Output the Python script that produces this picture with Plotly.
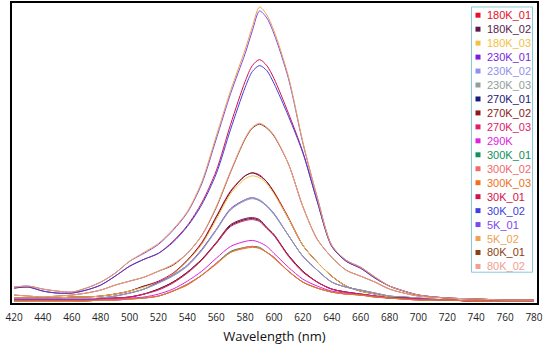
import plotly.graph_objects as go

# ---------------- data ----------------
wavelength = [420, 430, 440, 450, 460, 470, 480, 490, 500, 510, 520, 530, 540, 550, 560, 570,
              580, 585, 590, 595, 600, 610, 620, 630, 640, 650, 660, 670, 680, 690, 700,
              720, 740, 760, 780]

series_names = ["180K_01", "180K_02", "180K_03", "230K_01", "230K_02", "230K_03",
                "270K_01", "270K_02", "270K_03", "290K", "300K_01", "300K_02", "300K_03",
                "30K_01", "30K_02", "5K_01", "5K_02", "80K_01", "80K_02"]

series_colors = ["#e8102a", "#5c1a4a", "#f5c042", "#7a1fe0", "#8f8ff0", "#8fa09a",
                 "#1a1a7a", "#8b1a1a", "#e0206a", "#e020e0", "#10905a", "#f06a6a", "#f07020",
                 "#d8104a", "#4040e0", "#7a4af0", "#f0a050", "#8b4010", "#f0a090"]

k180_01 = [5, 5, 5, 5, 6, 6, 7, 9, 12, 17, 22, 30, 43, 61, 87, 113, 128, 131, 129, 122, 112, 86, 58, 41, 27, 17, 12, 9, 6, 5, 4, 3, 2, 2, 2]
k180_02 = [5, 5, 5, 5, 6, 6, 7, 9, 12, 17, 21, 29, 43, 60, 86, 112, 128, 131, 128, 122, 111, 85, 58, 41, 27, 17, 12, 9, 6, 5, 4, 3, 2, 2, 2]
k180_03 = [5, 5, 5, 5, 6, 6, 7, 9, 12, 16, 21, 29, 42, 59, 84, 110, 125, 128, 126, 120, 110, 85, 58, 41, 27, 17, 12, 9, 6, 5, 4, 3, 2, 2, 2]
k230_01 = [4, 4, 4, 4, 4, 4, 5, 7, 10, 14, 21, 28, 38, 54, 74, 95, 104, 106, 103, 98, 90, 68, 47, 33, 21, 16, 13, 10, 7, 6, 5, 3, 2, 2, 2]
k230_02 = [4, 4, 4, 4, 4, 4, 5, 7, 10, 14, 20, 28, 38, 53, 74, 94, 104, 106, 104, 98, 90, 68, 47, 33, 21, 16, 13, 10, 7, 6, 5, 3, 2, 2, 2]
k230_03 = [4, 4, 4, 4, 4, 4, 5, 7, 10, 14, 20, 27, 37, 53, 73, 94, 103, 105, 103, 97, 89, 68, 47, 33, 21, 16, 13, 10, 7, 6, 5, 3, 2, 2, 2]
k270_01 = [3, 3, 3, 3, 3, 3, 4, 5, 6, 9, 14, 21, 31, 44, 60, 78, 84, 85, 83, 76, 68, 48, 32, 21, 14, 11, 9, 7, 5, 5, 4, 3, 2, 2, 2]
k270_02 = [3, 3, 3, 3, 3, 3, 4, 5, 6, 9, 14, 21, 31, 44, 61, 79, 85, 86, 84, 76, 69, 48, 32, 21, 14, 11, 9, 7, 5, 5, 4, 3, 2, 2, 2]
k270_03 = [3, 3, 3, 3, 3, 3, 4, 5, 6, 9, 13, 20, 30, 43, 60, 77, 83, 84, 82, 75, 68, 47, 31, 21, 14, 11, 9, 7, 5, 5, 4, 3, 2, 2, 2]
k290 = [3, 3, 3, 3, 3, 3, 4, 4, 5, 6, 9, 14, 22, 32, 45, 57, 62, 63, 61, 57, 50, 36, 24, 17, 12, 10, 8, 7, 5, 4, 4, 3, 2, 2, 2]
k300_01 = [2, 2, 2, 2, 2, 2, 3, 3, 4, 5, 7, 12, 19, 28, 40, 52, 56, 57, 56, 51, 46, 32, 21, 15, 11, 9, 8, 6, 5, 4, 3, 3, 2, 2, 2]
k300_02 = [2, 2, 2, 2, 2, 2, 3, 3, 4, 5, 7, 12, 19, 28, 40, 51, 56, 57, 55, 51, 46, 32, 21, 15, 11, 9, 8, 6, 5, 4, 3, 3, 2, 2, 2]
k300_03 = [2, 2, 2, 2, 2, 2, 3, 3, 4, 5, 7, 12, 18, 28, 39, 51, 55, 56, 55, 51, 45, 32, 21, 15, 11, 9, 8, 6, 5, 4, 3, 3, 2, 2, 2]
k30_01 = [15, 16, 12, 10, 10, 13, 18, 27, 37, 44, 50, 62, 78, 101, 133, 180, 223, 239, 245, 239, 226, 191, 152, 102, 57, 42, 35, 25, 17, 12, 8, 5, 4, 3, 3]
k30_02 = [15, 16, 12, 10, 10, 13, 18, 27, 37, 44, 50, 61, 77, 99, 130, 175, 217, 233, 239, 234, 221, 188, 151, 102, 57, 42, 35, 25, 17, 12, 8, 5, 4, 3, 3]
k5_01 = [16, 17, 14, 12, 11, 15, 21, 30, 42, 50, 59, 73, 91, 120, 165, 211, 251, 274, 294, 287, 271, 226, 161, 106, 58, 43, 36, 26, 17, 12, 8, 5, 4, 3, 3]
k5_02 = [16, 17, 14, 12, 11, 15, 21, 30, 42, 51, 60, 74, 92, 122, 168, 214, 255, 278, 298, 290, 274, 228, 162, 106, 58, 43, 36, 26, 17, 12, 8, 5, 4, 3, 3]
k80_01 = [8, 7, 6, 7, 8, 10, 13, 18, 22, 26, 32, 38, 50, 68, 96, 132, 165, 176, 180, 176, 168, 140, 97, 64, 46, 33, 27, 21, 14, 10, 7, 5, 4, 3, 3]
k80_02 = [8, 7, 6, 7, 8, 10, 13, 18, 22, 26, 32, 39, 50, 68, 97, 133, 166, 177, 181, 177, 169, 140, 97, 64, 46, 33, 27, 21, 14, 10, 7, 5, 4, 3, 3]

series_values = [k180_01, k180_02, k180_03, k230_01, k230_02, k230_03,
                 k270_01, k270_02, k270_03, k290, k300_01, k300_02, k300_03,
                 k30_01, k30_02, k5_01, k5_02, k80_01, k80_02]

x_ticks = [420, 440, 460, 480, 500, 520, 540, 560, 580, 600, 620, 640, 660, 680, 700, 720, 740, 760, 780]

# ---------------- figure ----------------
W, H = 554, 350
ML, MR, MT, MB = 12, 17, 1, 47
PW, PH = W - ML - MR, H - MT - MB

fig = go.Figure()
for name, col, vals in zip(series_names, series_colors, series_values):
    fig.add_trace(go.Scatter(x=wavelength, y=vals, mode="lines", name=name,
                             line=dict(color=col, width=1, shape="spline", smoothing=0.8),
                             showlegend=False))

def px_to_paper(px, py):
    return (px - ML) / PW, (H - MB - py) / PH

shapes = []
annotations = []
# legend box
x0, y0 = px_to_paper(471.5, 5)
x1, y1 = px_to_paper(532.5, 272)
shapes.append(dict(type="rect", xref="paper", yref="paper", x0=x0, y0=y1, x1=x1, y1=y0,
                   line=dict(color="#8cc8dc", width=1), fillcolor="white", layer="above"))
for i, (name, col) in enumerate(zip(series_names, series_colors)):
    cy = 13.3 + 14.05 * i
    sx0, sy0 = px_to_paper(475.5, cy - 2.5)
    sx1, sy1 = px_to_paper(480.5, cy + 2.5)
    shapes.append(dict(type="rect", xref="paper", yref="paper", x0=sx0, x1=sx1, y0=sy1, y1=sy0,
                       line=dict(width=0), fillcolor=col, layer="above"))
    tx, ty = px_to_paper(485, cy)
    annotations.append(dict(xref="paper", yref="paper", x=tx, y=ty, xanchor="left", yanchor="middle",
                            text=name, showarrow=False,
                            font=dict(family="Liberation Sans, Arial", size=11, color=col)))

fig.update_layout(
    width=W, height=H,
    margin=dict(l=ML, r=MR, t=MT, b=MB),
    paper_bgcolor="white", plot_bgcolor="white",
    shapes=shapes, annotations=annotations,
    xaxis=dict(range=[418.6, 782.1], tickvals=x_ticks, ticktext=[str(t) for t in x_ticks],
               showgrid=False, zeroline=False, showline=True, mirror=True,
               linecolor="black", linewidth=2, ticks="outside", ticklen=4,
               tickcolor="rgba(0,0,0,0)",
               tickfont=dict(family="Open Sans", size=10, color="#222"),
               title=dict(text="Wavelength (nm)", standoff=9,
                          font=dict(family="Open Sans", size=13, color="#111"))),
    yaxis=dict(range=[0, 302], showticklabels=False, showgrid=False, zeroline=False,
               showline=True, mirror=True, linecolor="black", linewidth=2, ticks=""),
)

fig.write_html("out.html")
